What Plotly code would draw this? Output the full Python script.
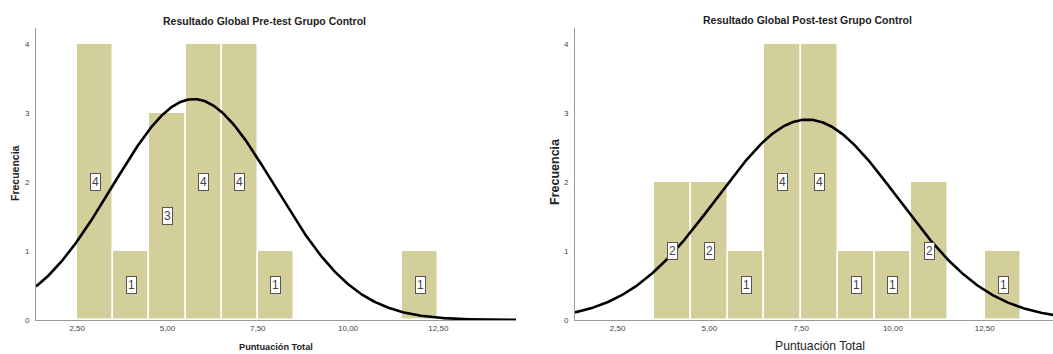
import numpy as np
import plotly.graph_objects as go

# Histogram bins (centre of each unit-wide bin) and frequencies
pre_centers = [3, 4, 5, 6, 7, 8, 12]
pre_counts = [4, 1, 3, 4, 4, 1, 1]

post_centers = [4, 5, 6, 7, 8, 9, 10, 11, 13]
post_counts = [2, 2, 1, 4, 4, 1, 1, 2, 1]

x_tickvals = [2.5, 5.0, 7.5, 10.0, 12.5]
x_ticktext = ["2,50", "5,00", "7,50", "10,00", "12,50"]
y_tickvals = [0, 1, 2, 3, 4]

BAR_COLOR = "#D3CF9B"
W, H = 1053, 354
M_TOP, M_BOT = 28, 34


def normal_curve(centers, counts, lo, hi):
    c = np.array(centers, float)
    n = np.array(counts, float)
    total = n.sum()
    mean = (c * n).sum() / total
    sd = np.sqrt(((c - mean) ** 2 * n).sum() / (total - 1))
    xs = np.linspace(lo, hi, 400)
    ys = total * 1.0 / (sd * np.sqrt(2 * np.pi)) * np.exp(-0.5 * ((xs - mean) / sd) ** 2)
    return xs, ys


fig = go.Figure()

panels = [
    dict(centers=pre_centers, counts=pre_counts, xa="x", ya="y",
         dom=[36 / W, 516 / W], rng=[1.36, 14.65]),
    dict(centers=post_centers, counts=post_counts, xa="x2", ya="y2",
         dom=[575 / W, 1.0], rng=[1.34, 14.36]),
]

for p in panels:
    fig.add_trace(go.Bar(
        x=p["centers"], y=p["counts"], width=1.0,
        marker=dict(color=BAR_COLOR, line=dict(color="white", width=1.5)),
        xaxis=p["xa"], yaxis=p["ya"], showlegend=False, hoverinfo="skip",
    ))
    xs, ys = normal_curve(p["centers"], p["counts"], p["rng"][0], p["rng"][1])
    fig.add_trace(go.Scatter(
        x=xs, y=ys, mode="lines", line=dict(color="black", width=2.6),
        xaxis=p["xa"], yaxis=p["ya"], showlegend=False, hoverinfo="skip",
    ))
    # count labels in white boxes at half the bar height
    for cx, cnt in zip(p["centers"], p["counts"]):
        fig.add_annotation(
            x=cx, y=cnt / 2, xref=p["xa"], yref=p["ya"], text=str(cnt),
            showarrow=False, font=dict(family="Liberation Sans, Arial", size=12, color="#444"),
            bgcolor="white", bordercolor="#555", borderwidth=1, borderpad=1,
        )

axis_common = dict(
    showgrid=False, zeroline=False, showline=True, linecolor="#9a9a9a", linewidth=1,
    ticks="", tickfont=dict(family="Liberation Sans, Arial", size=8, color="#444"),
)

fig.update_layout(
    width=W, height=H,
    margin=dict(l=0, r=0, t=M_TOP, b=M_BOT),
    paper_bgcolor="white", plot_bgcolor="white",
    bargap=0,
    xaxis=dict(domain=panels[0]["dom"], range=panels[0]["rng"], tickvals=x_tickvals,
               ticktext=x_ticktext, anchor="y", **axis_common),
    yaxis=dict(domain=[0, 1], range=[0, 4.23], tickvals=y_tickvals, anchor="x",
               ticklabelstandoff=4, **axis_common),
    xaxis2=dict(domain=panels[1]["dom"], range=panels[1]["rng"], tickvals=x_tickvals,
                ticktext=x_ticktext, anchor="y2", **axis_common),
    yaxis2=dict(domain=[0, 1], range=[0, 4.23], tickvals=y_tickvals, anchor="x2",
                ticklabelstandoff=4, **axis_common),
)

font = "Liberation Sans, Arial"
texts = [
    dict(text="<b>Resultado Global Pre-test Grupo Control</b>", x=264, y=21, size=10.5, angle=0),
    dict(text="<b>Resultado Global Post-test Grupo Control</b>", x=807, y=20, size=10.5, angle=0),
    dict(text="<b>Frecuencia</b>", x=15, y=173, size=10.5, angle=-90),
    dict(text="<b>Frecuencia</b>", x=555, y=172, size=12.5, angle=-90),
    dict(text="<b>Puntuación Total</b>", x=276, y=347, size=9.2, angle=0),
    dict(text="Puntuación Total", x=820, y=346, size=12.2, angle=0),
]
plot_h = H - M_TOP - M_BOT
for t in texts:
    fig.add_annotation(
        text=t["text"], x=t["x"] / W, y=(H - M_BOT - t["y"]) / plot_h,
        xref="paper", yref="paper",
        xanchor="center", yanchor="middle", showarrow=False, textangle=t["angle"],
        font=dict(family=font, size=t["size"], color="#222"),
    )

fig.write_html("out.html")
